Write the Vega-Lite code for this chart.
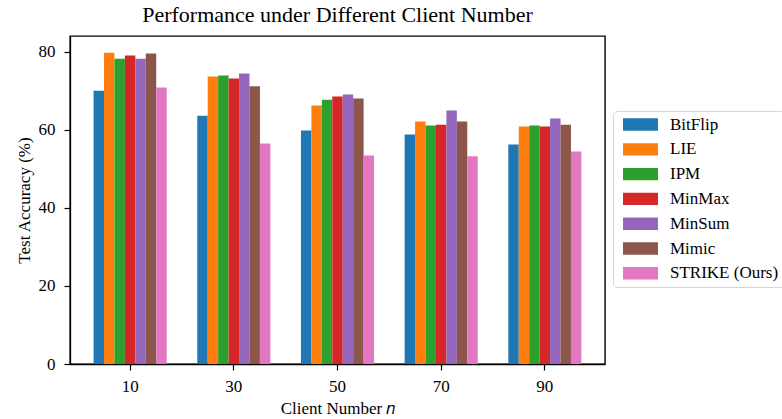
{
  "$schema": "https://vega.github.io/schema/vega-lite/v6.json",
  "width": 535,
  "height": 328,
  "autosize": "none",
  "padding": {"left": 70, "top": 36, "right": 177, "bottom": 55},
  "background": "white",
  "title": {
    "text": "Performance under Different Client Number",
    "font": "Liberation Serif",
    "fontSize": 22,
    "fontWeight": "normal",
    "color": "black",
    "anchor": "middle",
    "offset": 9
  },
  "config": {
    "view": {"stroke": "black", "strokeWidth": 1.4},
    "font": "Liberation Serif",
    "axis": {
      "labelFont": "Liberation Serif",
      "titleFont": "Liberation Serif",
      "labelFontSize": 17,
      "titleFontSize": 17,
      "titleFontWeight": "normal",
      "labelColor": "black",
      "titleColor": "black",
      "domainColor": "black",
      "tickColor": "black",
      "domainWidth": 1.3,
      "tickWidth": 1.2,
      "tickSize": 6,
      "grid": false
    },
    "legend": {
      "labelFont": "Liberation Serif",
      "labelFontSize": 17,
      "labelColor": "black"
    }
  },
  "data": {
    "values": [
      {"n": "10", "method": "BitFlip", "acc": 70.0},
      {"n": "10", "method": "LIE", "acc": 79.7},
      {"n": "10", "method": "IPM", "acc": 78.2},
      {"n": "10", "method": "MinMax", "acc": 79.0},
      {"n": "10", "method": "MinSum", "acc": 78.2},
      {"n": "10", "method": "Mimic", "acc": 79.5},
      {"n": "10", "method": "STRIKE (Ours)", "acc": 70.8},
      {"n": "30", "method": "BitFlip", "acc": 63.6},
      {"n": "30", "method": "LIE", "acc": 73.6},
      {"n": "30", "method": "IPM", "acc": 73.9},
      {"n": "30", "method": "MinMax", "acc": 73.1},
      {"n": "30", "method": "MinSum", "acc": 74.4},
      {"n": "30", "method": "Mimic", "acc": 71.1},
      {"n": "30", "method": "STRIKE (Ours)", "acc": 56.5},
      {"n": "50", "method": "BitFlip", "acc": 59.8},
      {"n": "50", "method": "LIE", "acc": 66.2},
      {"n": "50", "method": "IPM", "acc": 67.7},
      {"n": "50", "method": "MinMax", "acc": 68.5},
      {"n": "50", "method": "MinSum", "acc": 69.0},
      {"n": "50", "method": "Mimic", "acc": 68.0},
      {"n": "50", "method": "STRIKE (Ours)", "acc": 53.4},
      {"n": "70", "method": "BitFlip", "acc": 58.8},
      {"n": "70", "method": "LIE", "acc": 62.1},
      {"n": "70", "method": "IPM", "acc": 61.1},
      {"n": "70", "method": "MinMax", "acc": 61.3},
      {"n": "70", "method": "MinSum", "acc": 64.9},
      {"n": "70", "method": "Mimic", "acc": 62.1},
      {"n": "70", "method": "STRIKE (Ours)", "acc": 53.2},
      {"n": "90", "method": "BitFlip", "acc": 56.2},
      {"n": "90", "method": "LIE", "acc": 60.8},
      {"n": "90", "method": "IPM", "acc": 61.1},
      {"n": "90", "method": "MinMax", "acc": 60.8},
      {"n": "90", "method": "MinSum", "acc": 62.9},
      {"n": "90", "method": "Mimic", "acc": 61.3},
      {"n": "90", "method": "STRIKE (Ours)", "acc": 54.4}
    ]
  },
  "mark": {"type": "bar"},
  "encoding": {
    "x": {
      "field": "n",
      "type": "nominal",
      "sort": ["10", "30", "50", "70", "90"],
      "scale": {"paddingInner": 0.295, "paddingOuter": 0.2275},
      "axis": {
        "title": "Client Number 𝑛",
        "labelAngle": 0,
        "labelPadding": 8,
        "titlePadding": 6
      }
    },
    "xOffset": {
      "field": "method",
      "type": "nominal",
      "sort": ["BitFlip", "LIE", "IPM", "MinMax", "MinSum", "Mimic", "STRIKE (Ours)"],
      "scale": {"paddingInner": 0, "paddingOuter": 0}
    },
    "y": {
      "field": "acc",
      "type": "quantitative",
      "scale": {"domain": [0, 84], "nice": false},
      "axis": {
        "title": "Test Accuracy (%)",
        "values": [0, 20, 40, 60, 80],
        "labelPadding": 9,
        "titlePadding": 5
      }
    },
    "color": {
      "field": "method",
      "type": "nominal",
      "sort": ["BitFlip", "LIE", "IPM", "MinMax", "MinSum", "Mimic", "STRIKE (Ours)"],
      "scale": {
        "domain": ["BitFlip", "LIE", "IPM", "MinMax", "MinSum", "Mimic", "STRIKE (Ours)"],
        "range": ["#1f77b4", "#ff7f0e", "#2ca02c", "#d62728", "#9467bd", "#8c564b", "#e377c2"]
      },
      "legend": {
        "title": null,
        "orient": "none",
        "legendX": 543,
        "legendY": 75,
        "symbolType": "M-2.69,-0.95H2.69V0.95H-2.69Z",
        "symbolSize": 169,
        "symbolOffset": 14,
        "symbolStrokeWidth": 0,
        "symbolOpacity": 1,
        "labelOffset": 21,
        "rowPadding": 6.8,
        "padding": 5,
        "strokeColor": "#d5d5d5",
        "fillColor": "white",
        "cornerRadius": 4
      }
    }
  }
}
